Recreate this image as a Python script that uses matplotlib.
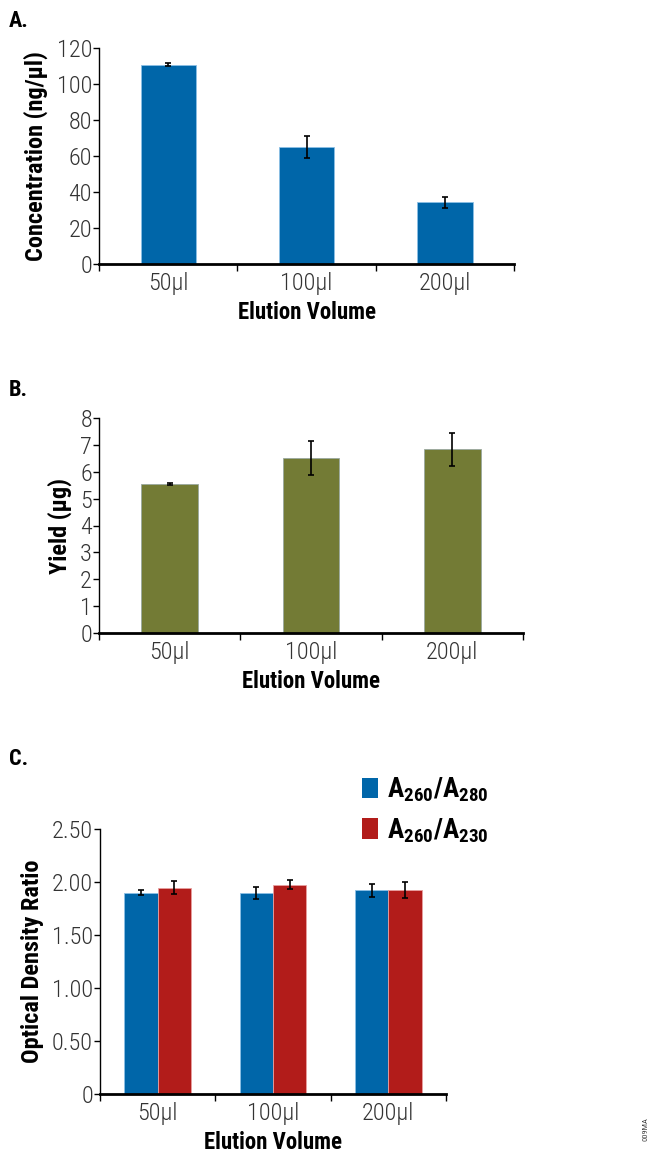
import numpy as np
import matplotlib
matplotlib.use("Agg")
import matplotlib.pyplot as plt
from matplotlib import font_manager
from matplotlib.patches import Patch

# pick a narrow font if we have one
def pick_font(names):
    for n in names:
        try:
            font_manager.findfont(n, fallback_to_default=False)
            return n
        except Exception:
            pass
    return "DejaVu Sans"

FONT = pick_font(["Liberation Sans Narrow", "Roboto Condensed", "DejaVu Sans"])
plt.rcParams["font.family"] = [FONT, "DejaVu Sans"]
plt.rcParams["mathtext.fontset"] = "custom"
plt.rcParams["mathtext.rm"] = FONT
plt.rcParams["mathtext.bf"] = FONT + ":bold"

volumes = ["50\u00b5l", "100\u00b5l", "200\u00b5l"]

conc = [110.6, 65.0, 34.3]
conc_err = [0.8, 6.3, 3.2]

yield_ug = [5.55, 6.50, 6.83]
yield_err = [0.04, 0.63, 0.63]

ratio_280 = [1.90, 1.895, 1.92]
ratio_280_err = [0.02, 0.055, 0.062]
ratio_230 = [1.945, 1.975, 1.924]
ratio_230_err = [0.06, 0.043, 0.074]

BLUE = "#0066a9"
GREEN = "#737b35"
RED = "#b21c1a"

W, H = 654, 1153
fig = plt.figure(figsize=(W / 100, H / 100), dpi=100)

def frac(l, t, r, b):
    return [l / W, 1 - b / H, (r - l) / W, (b - t) / H]

tick_fs = 17.5
ylab_fs = 17.5
xlab_fs = 16.5

def style(ax, ylabel, yticks, ylabels):
    for s in ["top", "right"]:
        ax.spines[s].set_visible(False)
    ax.spines["left"].set_linewidth(1.0)
    ax.spines["bottom"].set_linewidth(2.0)
    ax.set_xlim(-0.5, 2.5)
    ax.set_xticks([0, 1, 2])
    ax.set_xticklabels(volumes, fontsize=tick_fs, color="#333333", fontweight="light")
    ax.set_xticks([-0.5, 0.5, 1.5, 2.5], minor=True)
    ax.tick_params(axis="x", which="major", length=0, pad=6)
    ax.tick_params(axis="x", which="minor", length=5, width=1, direction="out")
    ax.set_yticks(yticks)
    ax.set_yticklabels(ylabels, fontsize=tick_fs, color="#333333", fontweight="light")
    ax.tick_params(axis="y", length=4, width=1, pad=1)
    ax.set_ylabel(ylabel, fontsize=ylab_fs, fontweight="bold", labelpad=6)
    ax.set_xlabel("Elution Volume", fontsize=xlab_fs, fontweight="bold", labelpad=4)

ekw = dict(ecolor="black", elinewidth=1.2, capsize=2.5, capthick=1.2)

# A
axA = fig.add_axes(frac(99, 48, 514, 264))
x = np.arange(3)
axA.bar(x, conc, 0.4, color=BLUE, edgecolor="#8cc0e6", linewidth=0.6,
        yerr=conc_err, error_kw=ekw)
axA.set_ylim(0, 120)
style(axA, "Concentration (ng/\u00b5l)", range(0, 121, 20),
      [str(v) for v in range(0, 121, 20)])

# B
axB = fig.add_axes(frac(99, 418, 523, 633))
axB.bar(x, yield_ug, 0.4, color=GREEN, edgecolor="#9aa8a0", linewidth=0.6,
        yerr=yield_err, error_kw=ekw)
axB.set_ylim(0, 8)
style(axB, "Yield (\u00b5g)", range(0, 9), [str(v) for v in range(0, 9)])

# C
axC = fig.add_axes(frac(100, 829, 446, 1094))
bw = 0.29
axC.bar(x - bw / 2, ratio_280, bw, color=BLUE, edgecolor="#8cc0e6", linewidth=0.6,
        yerr=ratio_280_err, error_kw=ekw)
axC.bar(x + bw / 2, ratio_230, bw, color=RED, edgecolor="#e8a0a0", linewidth=0.6,
        yerr=ratio_230_err, error_kw=ekw)
axC.set_ylim(0, 2.5)
cticks = [0, 0.5, 1.0, 1.5, 2.0, 2.5]
style(axC, "Optical Density Ratio", cticks,
      ["0"] + ["%.2f" % v for v in cticks[1:]])

handles = [Patch(facecolor=BLUE), Patch(facecolor=RED)]
labels = [r"$\mathbf{A_{260}/A_{280}}$", r"$\mathbf{A_{260}/A_{230}}$"]
fig.legend(handles, labels, loc="upper left", bbox_to_anchor=(348 / W, 1 - 762 / H),
           frameon=False, fontsize=19.5, handlelength=0.6, handleheight=0.8,
           handletextpad=0.35, labelspacing=0.45, borderpad=0)

# panel letters
for lbl, yy in [("A.", 21), ("B.", 390), ("C.", 759)]:
    fig.text(9 / W, 1 - yy / H, lbl, fontsize=16, fontweight="bold",
             ha="left", va="center")

# figure code, cut off at the bottom edge
fig.text(645 / W, 1 - 1117 / H, "009MA", fontsize=6, color="#444444",
         rotation=90, ha="center", va="top")

fig.savefig("out.png", dpi=100)
plt.close(fig)
